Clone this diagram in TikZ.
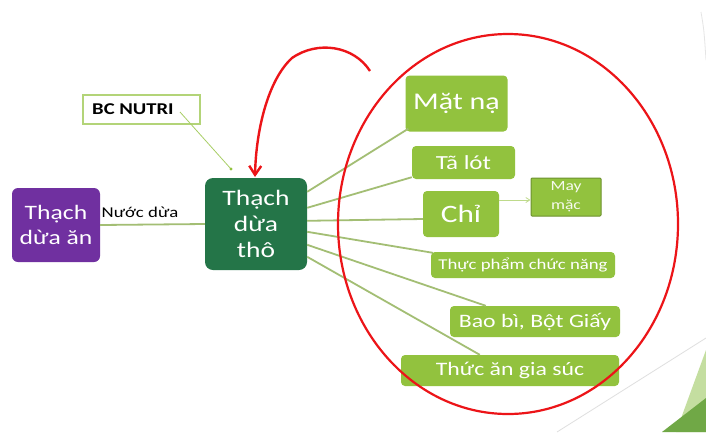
\documentclass[tikz,border=0pt]{standalone}
\usepackage{fontspec}
\setmainfont[FakeStretch=1.25]{Carlito}
\usetikzlibrary{calc,arrows.meta}
\definecolor{lgreen}{RGB}{146,194,62}
\definecolor{dgreen}{RGB}{36,117,72}
\definecolor{purp}{RGB}{112,48,160}
\definecolor{conn}{RGB}{163,190,116}
\definecolor{redc}{RGB}{236,20,24}
\definecolor{bgreen}{RGB}{112,168,70}
\definecolor{bgreenl}{RGB}{196,222,160}
\tikzset{
  gbox/.style={fill=lgreen, rounded corners=4pt, text=white, inner sep=0pt, align=center},
  conline/.style={draw=conn, line width=1.8pt},
}
\begin{document}
\begin{tikzpicture}[x=1pt,y=-1pt]
\useasboundingbox (0,0) rectangle (706,432);
\fill[white] (0,0) rectangle (706,432);
% background decoration
\draw[gray!25, line width=0.8pt] (557,432) -- (706,338);
\fill[bgreenl] (676,432) -- (706,350) -- (706,432) -- cycle;
\fill[bgreen] (662,432) -- (706,398) -- (706,432) -- cycle;
\draw[gray!20, line width=0.8pt] (701,12) .. controls (704,30) .. (706,60);

% nodes
\node[fill=purp, rounded corners=6pt, text=white, minimum width=88, minimum height=74, align=center, font=\fontsize{20.5}{25}\selectfont] (an) at (56,225) {Thạch\\dừa ăn};
\node[fill=dgreen, rounded corners=8pt, text=white, minimum width=102, minimum height=92, align=center, font=\fontsize{22}{26}\selectfont] (tho) at (256,224) {Thạch\\dừa\\thô};
\node[draw=lgreen!70, line width=1.2pt, fill=white, minimum width=117, minimum height=29] (bc) at (141.5,109.5) {};
\node[font=\fontsize{16.5}{18}\selectfont\bfseries, anchor=west, inner sep=0pt] (bctext) at (92,109.5) {BC NUTRI};

\node[gbox, minimum width=102, minimum height=56, font=\fontsize{24}{28}\selectfont] (matna) at (456.5,103.5) {Mặt nạ};
\node[gbox, minimum width=103, minimum height=33, font=\fontsize{20}{24}\selectfont] (talot) at (463.5,162.5) {Tã lót};
\node[gbox, minimum width=76, minimum height=46, font=\fontsize{25}{28}\selectfont] (chi) at (461,214) {Chỉ};
\node[gbox, rounded corners=1pt, draw=lgreen!75!black, line width=1pt, minimum width=70, minimum height=38, text=white!92!lgreen, font=\fontsize{14}{19}\selectfont] (may) at (566,197) {May\\mặc};
\node[gbox, minimum width=184, minimum height=26, font=\fontsize{15}{18}\selectfont] (tp) at (523,265) {Thực phẩm chức năng};
\node[gbox, minimum width=170, minimum height=31, font=\fontsize{19}{22}\selectfont] (bao) at (535,321.5) {Bao bì, Bột Giấy};
\node[gbox, minimum width=218, minimum height=31, font=\fontsize{19}{22}\selectfont] (thuc) at (510,370.5) {Thức ăn gia súc};

% label
\node[font=\fontsize{15}{18}\selectfont, inner sep=0pt] (nuoc) at (140,212) {Nước dừa};

% connectors
\draw[conline] (an.east) -- (tho.west);
\coordinate (bcend) at (231,169);
\draw[draw=lgreen!80, line width=0.8pt] (180,112) -- (bcend);
\fill[lgreen] (bcend) circle (1.6);

\draw[conline] ($(tho.north east)+(0,14)$) -- ($(matna.south west)+(3,-3)$);
\draw[conline] ($(tho.north east)+(0,30)$) -- ($(talot.south west)+(0,-2)$);
\draw[conline] ($(tho.north east)+(0,43)$) -- ($(chi.west)+(0,5)$);
\draw[conline] ($(tho.north east)+(0,54)$) -- ($(tp.north west)+(2,1)$);
\draw[conline] ($(tho.north east)+(0,67)$) -- ($(bao.north west)+(36,0)$);
\draw[conline] ($(tho.north east)+(0,79)$) -- ($(thuc.north west)+(79,0)$);

\draw[draw=lgreen!60, line width=0.8pt, -{Straight Barb[length=4pt,width=5pt]}] ($(chi.east)+(0,-14)$) -- ($(may.west)+(0,3)$);

% red annotations
\draw[redc, line width=2.2pt] (508,224) ellipse [x radius=170, y radius=190];
\draw[redc, line width=2.4pt, -{Straight Barb[length=9pt,width=12pt]}] (370,71) .. controls (354,46) and (318,40) .. (292,58) .. controls (268,80) and (256,130) .. (255,177);
\end{tikzpicture}
\end{document}
